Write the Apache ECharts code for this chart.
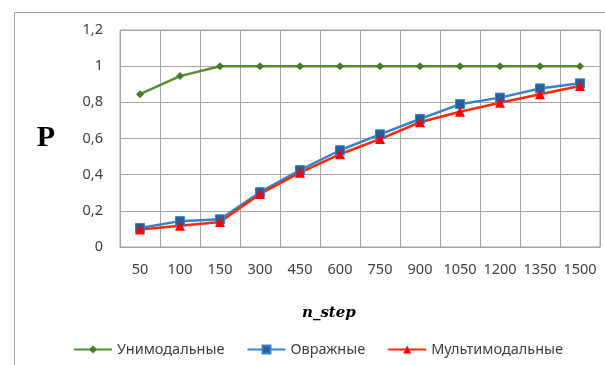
<!DOCTYPE html>
<html><head><meta charset="utf-8">
<script src="https://cdn.jsdelivr.net/npm/echarts@6/dist/echarts.min.js"></script>
<style>html,body{margin:0;padding:0;background:#fff}#c{width:605px;height:365px}</style>
</head><body><div id="c"></div>
<script>
const categories = ['50','100','150','300','450','600','750','900','1050','1200','1350','1500'];
const unimodal = [0.845, 0.945, 1, 1, 1, 1, 1, 1, 1, 1, 1, 1];
const ravine = [0.105, 0.143, 0.153, 0.303, 0.425, 0.535, 0.623, 0.708, 0.79, 0.826, 0.877, 0.905];
const multimodal = [0.097, 0.117, 0.138, 0.293, 0.411, 0.513, 0.597, 0.69, 0.748, 0.798, 0.845, 0.89];
const seriesNames = ['Унимодальные', 'Овражные', 'Мультимодальные'];
const yTicks = [0, 0.2, 0.4, 0.6, 0.8, 1, 1.2];

const chart = echarts.init(document.getElementById('c'), null, {renderer: 'canvas'});
const font = 'Noto Sans';
chart.setOption({
  animation: false,
  grid: {left: 120, top: 30, width: 480, height: 217, show: true, borderColor: '#a6a6a6', borderWidth: 1},
  xAxis: {
    type: 'category', data: categories, boundaryGap: true,
    axisLine: {lineStyle: {color: '#a6a6a6'}},
    axisTick: {show: false},
    splitLine: {show: true, lineStyle: {color: '#a6a6a6'}},
    axisLabel: {color: '#404040', fontSize: 14.5, fontFamily: font, margin: 15, interval: 0}
  },
  yAxis: {
    type: 'value', min: 0, max: 1.2, interval: 0.2,
    name: 'P', nameLocation: 'middle', nameRotate: 0, nameGap: 65,
    nameTextStyle: {fontFamily: 'Liberation Serif', fontWeight: 'bold', fontSize: 30, color: '#000'},
    axisLine: {show: true, lineStyle: {color: '#a6a6a6'}},
    axisTick: {show: false},
    splitLine: {lineStyle: {color: '#a6a6a6'}},
    axisLabel: {color: '#404040', fontSize: 14.5, fontFamily: font, margin: 17,
      formatter: v => { const t = yTicks.find(x => Math.abs(x - v) < 1e-9); return String(t === undefined ? v : t).replace('.', ','); }}
  },
  legend: {
    left: 68, top: 337, itemWidth: 38, itemHeight: 10, itemGap: 22,
    textStyle: {color: '#404040', fontSize: 14.5, fontFamily: font}
  },
  graphic: [
    {type: 'rect', shape: {x: 14.5, y: 12.5, width: 700, height: 400}, style: {fill: 'none', stroke: '#a0a0a0', lineWidth: 1}, silent: true},
    {type: 'text', left: 302, top: 306, style: {text: 'n_step', font: 'italic bold 15px "DejaVu Serif"', fill: '#000'}}
  ],
  series: [
    {name: seriesNames[0], type: 'line', data: unimodal, symbol: 'diamond', symbolSize: 8,
      lineStyle: {color: '#5b8c33', width: 2.5}, itemStyle: {color: '#4a7a28'}},
    {name: seriesNames[1], type: 'line', data: ravine, symbol: 'rect', symbolSize: 9,
      lineStyle: {color: '#3a82c8', width: 2.5}, itemStyle: {color: '#22609e', borderColor: '#3a82c8', borderWidth: 1}},
    {name: seriesNames[2], type: 'line', data: multimodal, symbol: 'triangle', symbolSize: 10,
      lineStyle: {color: '#ff2a00', width: 2.5}, itemStyle: {color: '#ff0000'}}
  ]
});
</script></body></html>
